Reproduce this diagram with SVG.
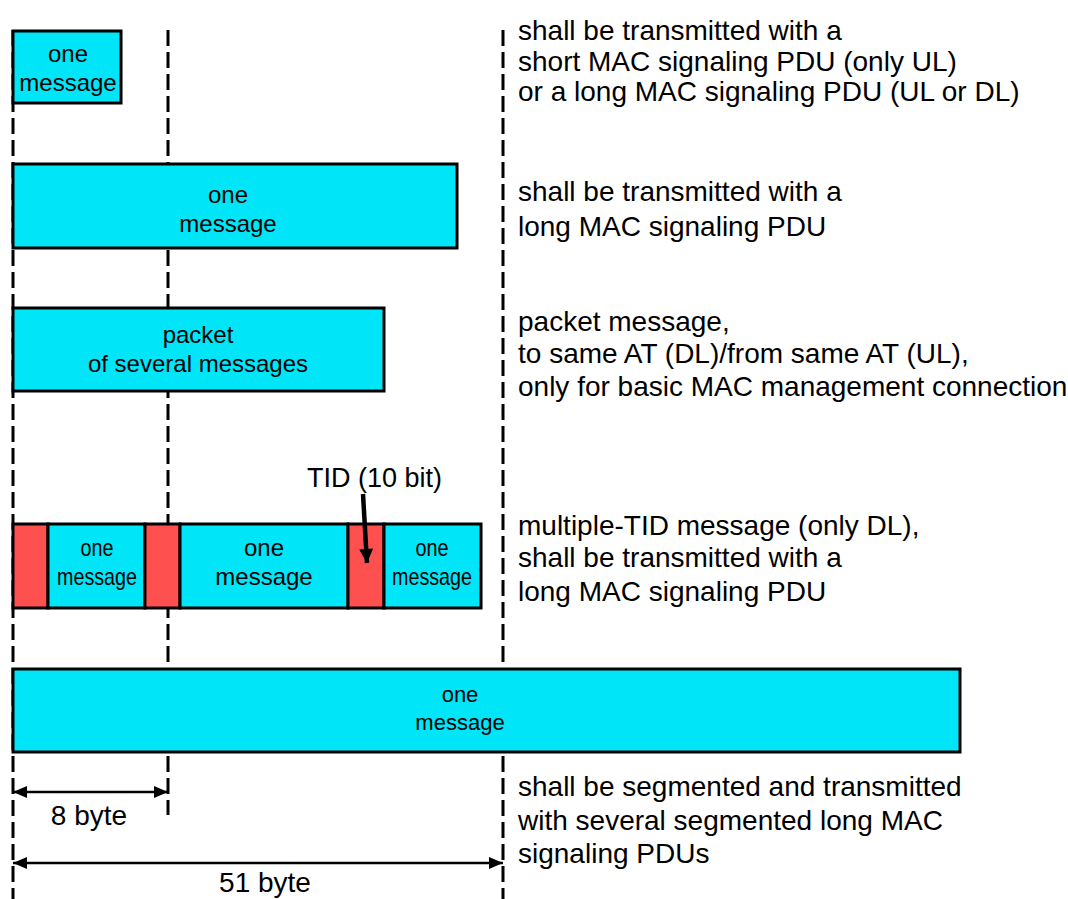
<svg xmlns="http://www.w3.org/2000/svg" width="1068" height="899" viewBox="0 0 1068 899">
<style>
text{font-family:"Liberation Sans",Arial,sans-serif;fill:#000}
.box{fill:#00e5f7;stroke:#000;stroke-width:3}
.red{fill:#ff5050;stroke:#000;stroke-width:3}
.dash{stroke:#000;stroke-width:3;stroke-dasharray:16 6;fill:none}
.lbl{font-size:24px;text-anchor:middle}
.desc{font-size:28px}
.dim{stroke:#000;stroke-width:2.5;fill:none}
</style>
<defs>
<marker id="ah" viewBox="0 0 14 12" refX="14" refY="6" markerWidth="14" markerHeight="12" markerUnits="userSpaceOnUse" orient="auto-start-reverse">
<path d="M0,0 L14,6 L0,12 z" fill="#000"/>
</marker>
<marker id="ah2" viewBox="0 0 14 14" refX="14" refY="7" markerWidth="15" markerHeight="14" markerUnits="userSpaceOnUse" orient="auto">
<path d="M0,0 L14,7 L0,14 z" fill="#000"/>
</marker>
</defs>
<g id="guides">
<line class="dash" x1="13" y1="30" x2="13" y2="899"/>
<line class="dash" x1="168" y1="30" x2="168" y2="815"/>
<line class="dash" x1="503" y1="30" x2="503" y2="899"/>
</g>
<g id="node-msg-short">
<rect class="box" x="13" y="31" width="108" height="72"/>
<text class="lbl" x="68" y="62">one</text>
<text class="lbl" x="68" y="91">message</text>
</g>
<g id="node-msg-long">
<rect class="box" x="13" y="164" width="444" height="84"/>
<text class="lbl" x="228" y="203">one</text>
<text class="lbl" x="228" y="232">message</text>
</g>
<g id="node-packet">
<rect class="box" x="13" y="308" width="371" height="83"/>
<text class="lbl" x="198" y="343">packet</text>
<text class="lbl" x="198" y="372">of several messages</text>
</g>
<g id="node-multitid">
<rect class="red" x="13" y="524" width="35" height="84"/>
<rect class="box" x="48" y="524" width="97" height="84"/>
<rect class="red" x="145" y="524" width="35" height="84"/>
<rect class="box" x="180" y="524" width="168" height="84"/>
<rect class="red" x="348" y="524" width="36" height="84"/>
<rect class="box" x="384" y="524" width="97" height="84"/>
<text class="lbl" x="97" y="556" textLength="33" lengthAdjust="spacingAndGlyphs">one</text>
<text class="lbl" x="97" y="585" textLength="80" lengthAdjust="spacingAndGlyphs">message</text>
<text class="lbl" x="264" y="556">one</text>
<text class="lbl" x="264" y="585">message</text>
<text class="lbl" x="432" y="556" textLength="33" lengthAdjust="spacingAndGlyphs">one</text>
<text class="lbl" x="432" y="585" textLength="80" lengthAdjust="spacingAndGlyphs">message</text>
</g>
<g id="node-tid-label">
<text x="307" y="487" font-size="27">TID (10 bit)</text>
</g>
<g id="node-msg-big">
<rect class="box" x="13" y="669" width="947" height="83"/>
<text class="lbl" x="460" y="702" style="font-size:22px">one</text>
<text class="lbl" x="460" y="730" style="font-size:22px">message</text>
</g>
<g id="connectors">
<line x1="363" y1="494" x2="367" y2="563" stroke="#000" stroke-width="4.5" marker-end="url(#ah2)"/>
<line class="dim" x1="13" y1="792" x2="168" y2="792" marker-start="url(#ah)" marker-end="url(#ah)"/>
<line class="dim" x1="13" y1="863" x2="503" y2="863" marker-start="url(#ah)" marker-end="url(#ah)"/>
</g>
<g id="dim-labels">
<text class="desc" x="89" y="825" text-anchor="middle">8 byte</text>
<text class="desc" x="265" y="892" text-anchor="middle">51 byte</text>
</g>
<g id="descriptions">
<text class="desc" x="518" y="40">shall be transmitted with a</text>
<text class="desc" x="518" y="71">short MAC signaling PDU (only UL)</text>
<text class="desc" x="518" y="101">or a long MAC signaling PDU (UL or DL)</text>
<text class="desc" x="518" y="201">shall be transmitted with a</text>
<text class="desc" x="518" y="236">long MAC signaling PDU</text>
<text class="desc" x="518" y="331">packet message,</text>
<text class="desc" x="518" y="363">to same AT (DL)/from same AT (UL),</text>
<text class="desc" x="518" y="396">only for basic MAC management connection</text>
<text class="desc" x="518" y="535">multiple-TID message (only DL),</text>
<text class="desc" x="518" y="567">shall be transmitted with a</text>
<text class="desc" x="518" y="601">long MAC signaling PDU</text>
<text class="desc" x="518" y="796">shall be segmented and transmitted</text>
<text class="desc" x="518" y="830">with several segmented long MAC</text>
<text class="desc" x="518" y="863">signaling PDUs</text>
</g>
</svg>
